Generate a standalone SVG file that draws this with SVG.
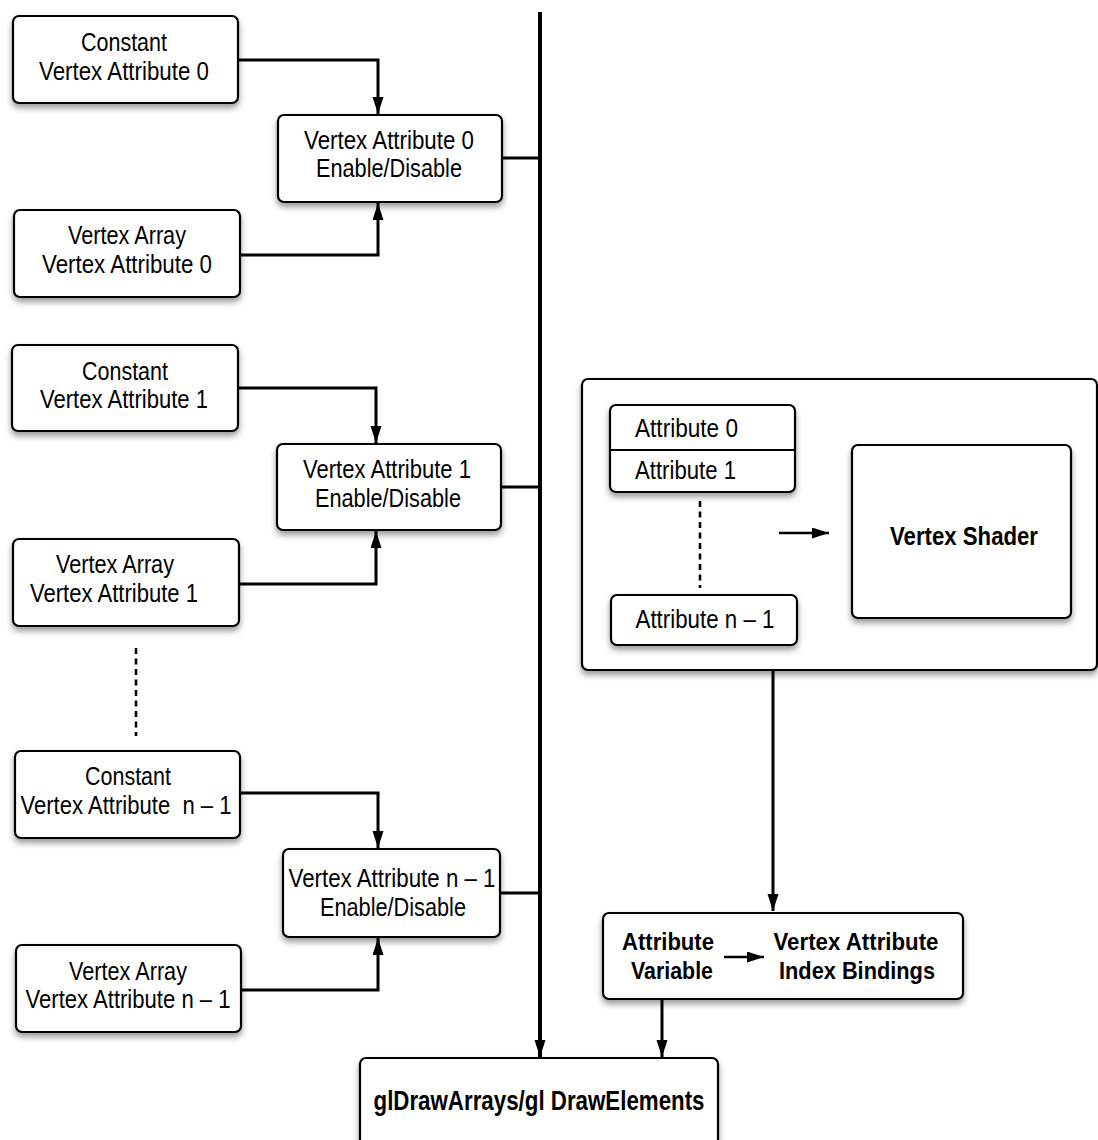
<svg xmlns="http://www.w3.org/2000/svg" width="1098" height="1140" viewBox="0 0 1098 1140">
<style>
.box{fill:#fff;stroke:#000;stroke-width:2.2;filter:url(#sh)}
.plain{fill:#fff;stroke:#000;stroke-width:2.2}
.t{font-family:"Liberation Sans Narrow","Liberation Sans",Arial,sans-serif;font-size:26px;fill:#000}
.r{font-size:25px}
.b{font-weight:bold;font-size:25px}
.m{text-anchor:middle}
.e{text-anchor:end}
.c{fill:none;stroke:#000;stroke-width:3}
.ca{fill:none;stroke:#000;stroke-width:3;marker-end:url(#ah)}
.dot{fill:none;stroke:#000;stroke-width:2.6;stroke-dasharray:6 4.5}
</style>
<defs>
<filter id="sh" x="-10%" y="-10%" width="125%" height="135%">
<feDropShadow dx="0" dy="4" stdDeviation="3" flood-color="#000" flood-opacity="0.4"/>
</filter>
<marker id="ah" markerUnits="userSpaceOnUse" markerWidth="18" markerHeight="12" refX="17" refY="5.5" orient="auto">
<path d="M0,0 L17,5.5 L0,11 z" fill="#000"/>
</marker>
</defs>

<g id="connectors">
<path class="ca" d="M238,60 H378 V114"/>
<path class="ca" d="M240,255 H378 V203"/>
<path class="c" d="M502,158 H540"/>
<path class="ca" d="M238,388 H376 V443"/>
<path class="ca" d="M239,584 H376 V531"/>
<path class="c" d="M501,487 H540"/>
<path class="ca" d="M240,793 H378 V848"/>
<path class="ca" d="M241,990 H378 V938"/>
<path class="c" d="M500,893 H540"/>
<path class="ca" d="M540,12 V1057" style="stroke-width:4"/>
<path class="dot" d="M136,648 V736"/>
<path class="ca" d="M773,671 V911"/>
<path class="ca" d="M662,1000 V1057"/>
</g>

<g id="constant0"><rect class="box" x="13" y="16" width="225" height="87" rx="6"/>
<text class="t m" x="124" y="51" textLength="86" lengthAdjust="spacingAndGlyphs">Constant</text>
<text class="t m" x="124" y="80" textLength="170" lengthAdjust="spacingAndGlyphs">Vertex Attribute 0</text></g>

<g id="enable0"><rect class="box" x="278" y="115" width="224" height="87" rx="6"/>
<text class="t m" x="389" y="149" textLength="170" lengthAdjust="spacingAndGlyphs">Vertex Attribute 0</text>
<text class="t m" x="389" y="177" textLength="146" lengthAdjust="spacingAndGlyphs">Enable/Disable</text></g>

<g id="array0"><rect class="box" x="14" y="210" width="226" height="87" rx="6"/>
<text class="t m" x="127" y="244" textLength="118" lengthAdjust="spacingAndGlyphs">Vertex Array</text>
<text class="t m" x="127" y="273" textLength="170" lengthAdjust="spacingAndGlyphs">Vertex Attribute 0</text></g>

<g id="constant1"><rect class="box" x="12" y="345" width="226" height="86" rx="6"/>
<text class="t m" x="125" y="380" textLength="86" lengthAdjust="spacingAndGlyphs">Constant</text>
<text class="t m" x="124" y="408" textLength="168" lengthAdjust="spacingAndGlyphs">Vertex Attribute 1</text></g>

<g id="enable1"><rect class="box" x="277" y="444" width="224" height="86" rx="6"/>
<text class="t m" x="387" y="478" textLength="168" lengthAdjust="spacingAndGlyphs">Vertex Attribute 1</text>
<text class="t m" x="388" y="507" textLength="146" lengthAdjust="spacingAndGlyphs">Enable/Disable</text></g>

<g id="array1"><rect class="box" x="13" y="539" width="226" height="87" rx="6"/>
<text class="t m" x="115" y="573" textLength="118" lengthAdjust="spacingAndGlyphs">Vertex Array</text>
<text class="t m" x="114" y="602" textLength="168" lengthAdjust="spacingAndGlyphs">Vertex Attribute 1</text></g>

<g id="constantN"><rect class="box" x="15" y="751" width="225" height="87" rx="6"/>
<text class="t m" x="128" y="785" textLength="86" lengthAdjust="spacingAndGlyphs">Constant</text>
<text class="t m" x="126" y="814" textLength="211" lengthAdjust="spacingAndGlyphs" xml:space="preserve">Vertex Attribute  n – 1</text></g>

<g id="enableN"><rect class="box" x="283" y="849" width="217" height="88" rx="6"/>
<text class="t m" x="392" y="887" textLength="207" lengthAdjust="spacingAndGlyphs">Vertex Attribute n – 1</text>
<text class="t m" x="393" y="916" textLength="146" lengthAdjust="spacingAndGlyphs">Enable/Disable</text></g>

<g id="arrayN"><rect class="box" x="16" y="945" width="225" height="87" rx="6"/>
<text class="t m" x="128" y="980" textLength="118" lengthAdjust="spacingAndGlyphs">Vertex Array</text>
<text class="t m" x="128" y="1008" textLength="205" lengthAdjust="spacingAndGlyphs">Vertex Attribute n – 1</text></g>

<g id="shaderContainer"><rect class="box" x="582" y="379" width="515" height="291" rx="6"/></g>

<g id="attributes01"><rect class="box" x="610" y="405" width="185" height="87" rx="6"/>
<line x1="610" y1="450" x2="795" y2="450" stroke="#000" stroke-width="2"/>
<text class="t r" x="635" y="437" textLength="103" lengthAdjust="spacingAndGlyphs">Attribute 0</text>
<text class="t r" x="635" y="479" textLength="101" lengthAdjust="spacingAndGlyphs">Attribute 1</text></g>

<g id="attributeN"><rect class="box" x="611" y="595" width="186" height="50" rx="6"/>
<text class="t r m" x="705" y="628" textLength="139" lengthAdjust="spacingAndGlyphs">Attribute n – 1</text></g>

<g id="innerConnectors">
<path class="dot" d="M700,501 V588"/>
<path d="M779,533 H829" fill="none" stroke="#000" stroke-width="2.6" marker-end="url(#ah)"/>
</g>

<g id="vertexShader"><rect class="box" x="852" y="445" width="219" height="173" rx="6"/>
<text class="t b m" x="964" y="545" textLength="148" lengthAdjust="spacingAndGlyphs">Vertex Shader</text></g>

<g id="bindings"><rect class="box" x="603" y="913" width="360" height="86" rx="6"/>
<text class="t b e" x="714" y="950" textLength="92" lengthAdjust="spacingAndGlyphs" style="font-size:24px">Attribute</text>
<text class="t b e" x="713" y="979" textLength="82" lengthAdjust="spacingAndGlyphs" style="font-size:24px">Variable</text>
<path d="M724,957 H764" fill="none" stroke="#000" stroke-width="2.6" marker-end="url(#ah)"/>
<text class="t b m" x="856" y="950" textLength="165" lengthAdjust="spacingAndGlyphs" style="font-size:24px">Vertex Attribute</text>
<text class="t b m" x="857" y="979" textLength="156" lengthAdjust="spacingAndGlyphs" style="font-size:24px">Index Bindings</text></g>

<g id="draw"><rect class="box" x="360" y="1058" width="358" height="110" rx="6"/>
<text class="t b m" x="539" y="1110" textLength="331" lengthAdjust="spacingAndGlyphs" style="font-size:27px">glDrawArrays/gl DrawElements</text></g>
</svg>
